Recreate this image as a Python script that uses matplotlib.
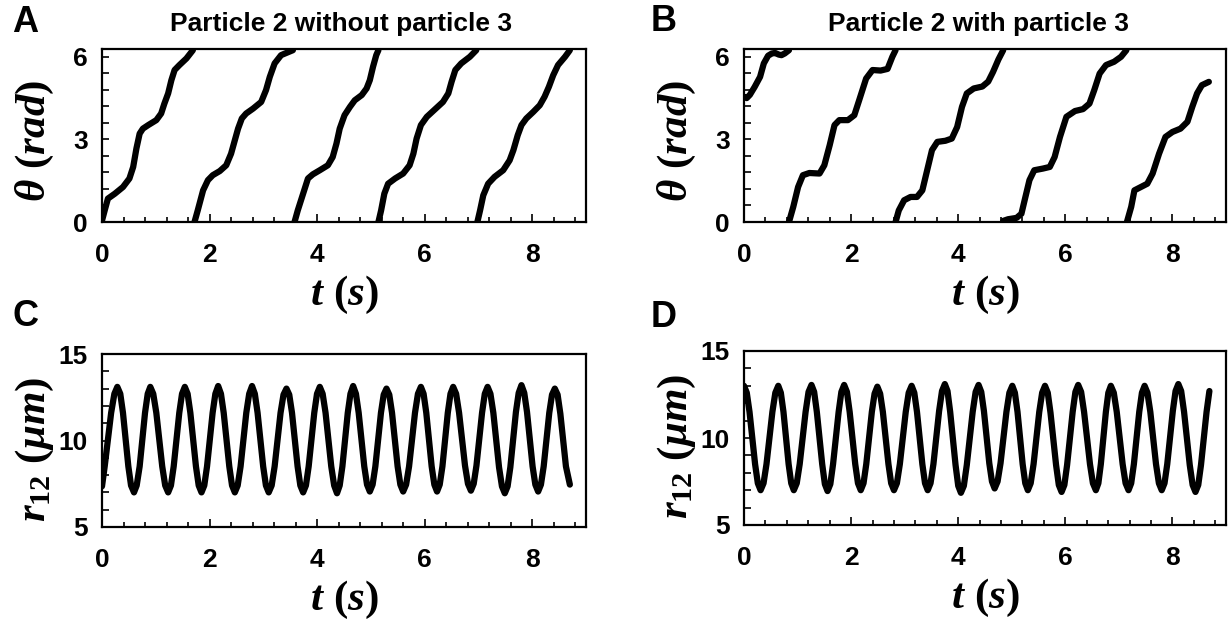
import numpy as np
import matplotlib.pyplot as plt
from matplotlib.ticker import MultipleLocator

plt.rcParams['font.family'] = ['Liberation Sans', 'DejaVu Sans']
plt.rcParams['font.weight'] = 'bold'
plt.rcParams['mathtext.fontset'] = 'custom'
plt.rcParams['mathtext.rm'] = 'Liberation Serif'
plt.rcParams['mathtext.it'] = 'Liberation Serif:italic:bold'
plt.rcParams['mathtext.bf'] = 'Liberation Serif:bold'

# panel A: angle of particle 2, no particle 3 (one row per revolution)
t_a = [0.00, 0.05, 0.11, 0.24, 0.39, 0.51, 0.58, 0.64, 0.70, 0.76, 0.86, 1.01, 1.10, 1.16, 1.23, 1.29, 1.35, 1.44, 1.57, 1.69,
       1.72, 1.78, 1.88, 1.97, 2.06, 2.19, 2.31, 2.40, 2.47, 2.53, 2.60, 2.68, 2.81, 2.96, 3.05, 3.12, 3.21, 3.33, 3.55,
       3.58, 3.64, 3.74, 3.83, 3.92, 4.05, 4.20, 4.29, 4.36, 4.42, 4.51, 4.61, 4.70, 4.83, 4.92, 4.98, 5.04, 5.10, 5.14,
       5.14, 5.19, 5.25, 5.32, 5.45, 5.60, 5.72, 5.79, 5.85, 5.93, 6.04, 6.19, 6.34, 6.44, 6.50, 6.57, 6.68, 6.84, 6.96,
       6.98, 7.03, 7.09, 7.18, 7.30, 7.46, 7.58, 7.65, 7.73, 7.80, 7.89, 8.02, 8.14, 8.23, 8.31, 8.39, 8.48, 8.61, 8.70]
theta_a = [0.05, 0.42, 0.85, 1.03, 1.27, 1.58, 2.00, 2.67, 3.21, 3.39, 3.52, 3.70, 3.94, 4.30, 4.67, 5.15, 5.52, 5.70, 5.94, 6.24,
           0.00, 0.42, 1.15, 1.52, 1.70, 1.85, 2.06, 2.48, 2.97, 3.39, 3.76, 3.94, 4.12, 4.36, 4.79, 5.27, 5.76, 6.06, 6.24,
           0.00, 0.42, 1.03, 1.58, 1.73, 1.88, 2.06, 2.36, 2.85, 3.39, 3.88, 4.18, 4.42, 4.61, 4.85, 5.15, 5.64, 6.06, 6.24,
           0.00, 0.42, 1.03, 1.39, 1.58, 1.76, 2.06, 2.48, 3.03, 3.52, 3.82, 4.09, 4.36, 4.67, 5.09, 5.52, 5.76, 6.00, 6.24,
           0.00, 0.42, 0.97, 1.39, 1.64, 1.88, 2.24, 2.61, 3.15, 3.52, 3.76, 4.00, 4.24, 4.55, 4.91, 5.33, 5.70, 6.00, 6.24]

# panel B: angle of particle 2 with particle 3
t_b = [0.00, 0.05, 0.11, 0.20, 0.30, 0.37, 0.45, 0.52, 0.58, 0.65, 0.70, 0.76, 0.84,
       0.84, 0.92, 1.01, 1.10, 1.22, 1.41, 1.50, 1.60, 1.69, 1.78, 1.94, 2.06, 2.15, 2.28, 2.40, 2.55, 2.68, 2.77, 2.83,
       2.83, 2.89, 2.99, 3.11, 3.23, 3.33, 3.42, 3.51, 3.61, 3.76, 3.88, 3.98, 4.07, 4.16, 4.29, 4.45, 4.56, 4.65, 4.75, 4.84,
       4.84, 4.93, 5.09, 5.18, 5.24, 5.33, 5.42, 5.58, 5.71, 5.80, 5.90, 6.02, 6.18, 6.33, 6.45, 6.54, 6.64, 6.76, 6.91, 7.04, 7.14,
       7.15, 7.23, 7.29, 7.41, 7.53, 7.63, 7.75, 7.87, 8.00, 8.15, 8.28, 8.37, 8.46, 8.55, 8.68]
theta_b = [4.55, 4.50, 4.62, 4.91, 5.27, 5.76, 6.04, 6.12, 6.14, 6.08, 6.06, 6.12, 6.24,
           0.00, 0.55, 1.27, 1.70, 1.78, 1.76, 2.06, 2.79, 3.52, 3.70, 3.70, 3.88, 4.42, 5.21, 5.52, 5.50, 5.56, 6.00, 6.24,
           0.00, 0.42, 0.79, 0.91, 0.91, 1.15, 1.88, 2.61, 2.91, 2.95, 3.03, 3.45, 4.18, 4.67, 4.85, 4.92, 5.10, 5.45, 5.90, 6.24,
           0.04, 0.10, 0.15, 0.30, 0.79, 1.52, 1.88, 1.94, 2.00, 2.36, 3.09, 3.82, 4.03, 4.10, 4.30, 4.79, 5.39, 5.70, 5.82, 6.00, 6.24,
           0.00, 0.55, 1.15, 1.27, 1.39, 1.76, 2.48, 3.09, 3.27, 3.39, 3.64, 4.18, 4.67, 4.97, 5.09]

# panel C: distance r12 without particle 3
t_c = [0.00, 0.05, 0.11, 0.17, 0.23, 0.285,
       0.34, 0.39, 0.44, 0.49, 0.54, 0.595,
       0.645, 0.70, 0.75, 0.80, 0.85, 0.898,
       0.953, 1.01, 1.064, 1.12, 1.175, 1.23,
       1.282, 1.333, 1.385, 1.437, 1.488, 1.54,
       1.592, 1.643, 1.695, 1.747, 1.798, 1.85,
       1.902, 1.953, 2.005, 2.057, 2.108, 2.16,
       2.212, 2.263, 2.315, 2.367, 2.418, 2.47,
       2.523, 2.577, 2.63, 2.683, 2.737, 2.79,
       2.842, 2.893, 2.945, 2.997, 3.048, 3.10,
       3.155, 3.21, 3.265, 3.32, 3.375, 3.43,
       3.482, 3.533, 3.585, 3.637, 3.688, 3.74,
       3.792, 3.843, 3.895, 3.947, 3.998, 4.05,
       4.103, 4.157, 4.21, 4.263, 4.317, 4.37,
       4.42, 4.47, 4.52, 4.57, 4.62, 4.67,
       4.722, 4.773, 4.825, 4.877, 4.928, 4.98,
       5.032, 5.083, 5.135, 5.187, 5.238, 5.29,
       5.342, 5.393, 5.445, 5.497, 5.548, 5.60,
       5.655, 5.71, 5.765, 5.82, 5.875, 5.93,
       5.98, 6.03, 6.08, 6.13, 6.18, 6.23,
       6.28, 6.33, 6.38, 6.43, 6.48, 6.53,
       6.585, 6.64, 6.695, 6.75, 6.805, 6.86,
       6.912, 6.963, 7.015, 7.067, 7.118, 7.17,
       7.223, 7.277, 7.33, 7.383, 7.437, 7.49,
       7.542, 7.593, 7.645, 7.697, 7.748, 7.80,
       7.852, 7.903, 7.955, 8.007, 8.058, 8.11,
       8.162, 8.213, 8.265, 8.317, 8.368, 8.42,
       8.472, 8.523, 8.575, 8.627, 8.70]
r_c = [7.35, 8.5, 10.05, 11.6, 12.7, 13.1,
       12.7, 11.6, 10.05, 8.5, 7.4, 7.0,
       7.4, 8.5, 10.05, 11.6, 12.7, 13.1,
       12.7, 11.6, 10.05, 8.5, 7.4, 7.0,
       7.4, 8.5, 10.05, 11.6, 12.7, 13.1,
       12.7, 11.6, 10.05, 8.5, 7.4, 7.0,
       7.4, 8.5, 10.05, 11.6, 12.7, 13.15,
       12.7, 11.6, 10.05, 8.5, 7.4, 7.0,
       7.4, 8.5, 10.05, 11.6, 12.7, 13.15,
       12.7, 11.6, 10.05, 8.5, 7.4, 7.0,
       7.4, 8.5, 10.05, 11.6, 12.65, 13.0,
       12.65, 11.6, 10.05, 8.5, 7.4, 7.0,
       7.4, 8.5, 10.05, 11.6, 12.7, 13.1,
       12.7, 11.6, 10.05, 8.5, 7.4, 6.95,
       7.4, 8.5, 10.05, 11.6, 12.7, 13.15,
       12.7, 11.6, 10.05, 8.5, 7.45, 7.05,
       7.45, 8.5, 10.05, 11.6, 12.65, 13.0,
       12.65, 11.6, 10.05, 8.5, 7.45, 7.05,
       7.45, 8.5, 10.05, 11.6, 12.7, 13.1,
       12.7, 11.6, 10.05, 8.5, 7.45, 7.05,
       7.45, 8.5, 10.05, 11.6, 12.7, 13.1,
       12.7, 11.6, 10.05, 8.55, 7.5, 7.1,
       7.5, 8.55, 10.05, 11.6, 12.7, 13.1,
       12.7, 11.6, 10.0, 8.45, 7.35, 6.95,
       7.35, 8.45, 10.05, 11.65, 12.75, 13.2,
       12.75, 11.65, 10.05, 8.5, 7.45, 7.05,
       7.45, 8.5, 10.05, 11.6, 12.65, 13.0,
       12.65, 11.55, 10.0, 8.5, 7.45]

# panel D: distance r12 with particle 3
t_d = [0.00,
       0.052, 0.103, 0.155, 0.207, 0.258, 0.31,
       0.365, 0.42, 0.475, 0.53, 0.585, 0.64,
       0.688, 0.737, 0.785, 0.833, 0.882, 0.93,
       0.985, 1.04, 1.095, 1.15, 1.205, 1.26,
       1.31, 1.36, 1.41, 1.46, 1.51, 1.56,
       1.612, 1.663, 1.715, 1.767, 1.818, 1.87,
       1.922, 1.973, 2.025, 2.077, 2.128, 2.18,
       2.232, 2.283, 2.335, 2.387, 2.438, 2.49,
       2.542, 2.593, 2.645, 2.697, 2.748, 2.80,
       2.855, 2.91, 2.965, 3.02, 3.075, 3.13,
       3.18, 3.23, 3.28, 3.33, 3.38, 3.43,
       3.483, 3.537, 3.59, 3.643, 3.697, 3.75,
       3.80, 3.85, 3.90, 3.95, 4.00, 4.05,
       4.105, 4.16, 4.215, 4.27, 4.325, 4.38,
       4.43, 4.48, 4.53, 4.58, 4.63, 4.68,
       4.735, 4.79, 4.845, 4.90, 4.955, 5.01,
       5.058, 5.107, 5.155, 5.203, 5.252, 5.30,
       5.353, 5.407, 5.46, 5.513, 5.567, 5.62,
       5.672, 5.723, 5.775, 5.827, 5.878, 5.93,
       5.982, 6.033, 6.085, 6.137, 6.188, 6.24,
       6.295, 6.35, 6.405, 6.46, 6.515, 6.57,
       6.617, 6.663, 6.71, 6.757, 6.803, 6.85,
       6.905, 6.96, 7.015, 7.07, 7.125, 7.18,
       7.23, 7.28, 7.33, 7.38, 7.43, 7.48,
       7.533, 7.587, 7.64, 7.693, 7.747, 7.80,
       7.852, 7.903, 7.955, 8.007, 8.058, 8.11,
       8.163, 8.217, 8.27, 8.323, 8.377, 8.43,
       8.482, 8.533, 8.585, 8.637, 8.69]
r_d = [13.0,
       12.6, 11.5, 10.0, 8.5, 7.4, 7.0,
       7.4, 8.5, 10.0, 11.5, 12.6, 13.0,
       12.6, 11.5, 10.0, 8.5, 7.4, 7.0,
       7.4, 8.5, 10.0, 11.5, 12.65, 13.05,
       12.65, 11.5, 10.0, 8.5, 7.35, 6.95,
       7.35, 8.5, 10.0, 11.5, 12.65, 13.05,
       12.65, 11.5, 10.0, 8.5, 7.4, 7.0,
       7.4, 8.5, 10.0, 11.5, 12.55, 12.95,
       12.55, 11.5, 10.0, 8.5, 7.4, 7.0,
       7.4, 8.5, 10.0, 11.5, 12.6, 13.0,
       12.6, 11.5, 10.0, 8.5, 7.4, 7.0,
       7.4, 8.5, 10.0, 11.55, 12.7, 13.1,
       12.7, 11.5, 10.0, 8.45, 7.25, 6.85,
       7.25, 8.45, 10.0, 11.5, 12.65, 13.05,
       12.65, 11.55, 10.05, 8.55, 7.5, 7.1,
       7.5, 8.55, 10.05, 11.5, 12.6, 13.0,
       12.6, 11.5, 10.0, 8.5, 7.4, 7.0,
       7.4, 8.5, 10.0, 11.5, 12.6, 13.0,
       12.6, 11.45, 9.95, 8.45, 7.3, 6.9,
       7.3, 8.45, 9.95, 11.5, 12.65, 13.05,
       12.65, 11.5, 10.0, 8.5, 7.4, 7.0,
       7.4, 8.5, 10.0, 11.5, 12.6, 13.0,
       12.6, 11.5, 10.0, 8.5, 7.4, 7.0,
       7.4, 8.5, 10.0, 11.5, 12.6, 13.0,
       12.6, 11.5, 10.0, 8.5, 7.4, 7.0,
       7.4, 8.5, 10.05, 11.55, 12.7, 13.1,
       12.7, 11.5, 10.0, 8.45, 7.3, 6.9,
       7.3, 8.45, 10.0, 11.5, 12.7]

x_ticks = [0, 2, 4, 6, 8]
theta_ticks = [0, 3, 6]
r_ticks = [5, 10, 15]


def split_wraps(t, y):
    # break the line where the angle jumps from 2*pi back to 0
    t = np.asarray(t, float)
    y = np.asarray(y, float)
    idx = np.where(np.diff(y) < -3)[0] + 1
    return np.insert(t, idx, np.nan), np.insert(y, idx, np.nan)


def style_axes(ax, yticks, ylim, yminor):
    ax.set_xlim(0, 9)
    ax.set_ylim(*ylim)
    ax.set_xticks(x_ticks)
    ax.set_yticks(yticks)
    ax.xaxis.set_minor_locator(MultipleLocator(0.4))
    ax.yaxis.set_minor_locator(MultipleLocator(yminor))
    ax.tick_params(which='both', direction='in', top=False, right=False, width=1.2, labelsize=19)
    ax.tick_params(axis='x', which='major', length=6, pad=15)
    ax.tick_params(axis='x', which='minor', length=3.5)
    ax.tick_params(axis='y', which='both', length=5, pad=10)
    for s in ax.spines.values():
        s.set_linewidth(1.6)
    for lab in ax.get_xticklabels() + ax.get_yticklabels():
        lab.set_fontweight('bold')
    ax.set_xlabel(r'$t\ (s)$', fontsize=31)
    ax.xaxis.set_label_coords(0.5, -0.30)


fig = plt.figure(figsize=(12.3, 6.3), dpi=100)
ax_a = fig.add_axes([102 / 1230, 1 - 222 / 630, 484 / 1230, 173 / 630])
ax_b = fig.add_axes([744 / 1230, 1 - 222 / 630, 482 / 1230, 173 / 630])
ax_c = fig.add_axes([102 / 1230, 1 - 527 / 630, 484 / 1230, 173 / 630])
ax_d = fig.add_axes([744 / 1230, 1 - 525 / 630, 482 / 1230, 174 / 630])

line_kw = dict(color='black', lw=4.5, solid_capstyle='round', solid_joinstyle='round')

for ax, t, th in [(ax_a, t_a, theta_a), (ax_b, t_b, theta_b)]:
    tt, yy = split_wraps(t, th)
    ax.plot(tt, yy, **line_kw)
    style_axes(ax, theta_ticks, (0, 2 * np.pi), 0.6)
    ax.set_ylabel(r'$\theta\ (rad)$', fontsize=31)
    ax.yaxis.set_label_coords(-0.095, 0.47)

for ax, t, r in [(ax_c, t_c, r_c), (ax_d, t_d, r_d)]:
    ax.plot(t, r, **line_kw)
    style_axes(ax, r_ticks, (5, 15), 1)
    ax.set_ylabel(r'$r_{\mathrm{12}}\ (\mu m)$', fontsize=31)
    ax.yaxis.set_label_coords(-0.095, 0.45)

fig.text(341 / 1230, 1 - 31 / 630, 'Particle 2 without particle 3', ha='center', va='baseline',
         fontsize=19, fontweight='bold')
fig.text(978 / 1230, 1 - 31 / 630, 'Particle 2 with particle 3', ha='center', va='baseline',
         fontsize=19, fontweight='bold')

for letter, x, y in [('A', 12, 32), ('B', 651, 31), ('C', 12, 326), ('D', 651, 327)]:
    fig.text(x / 1230, 1 - y / 630, letter, ha='left', va='baseline', fontsize=26, fontweight='bold')

fig.savefig('out.png', dpi=100)
